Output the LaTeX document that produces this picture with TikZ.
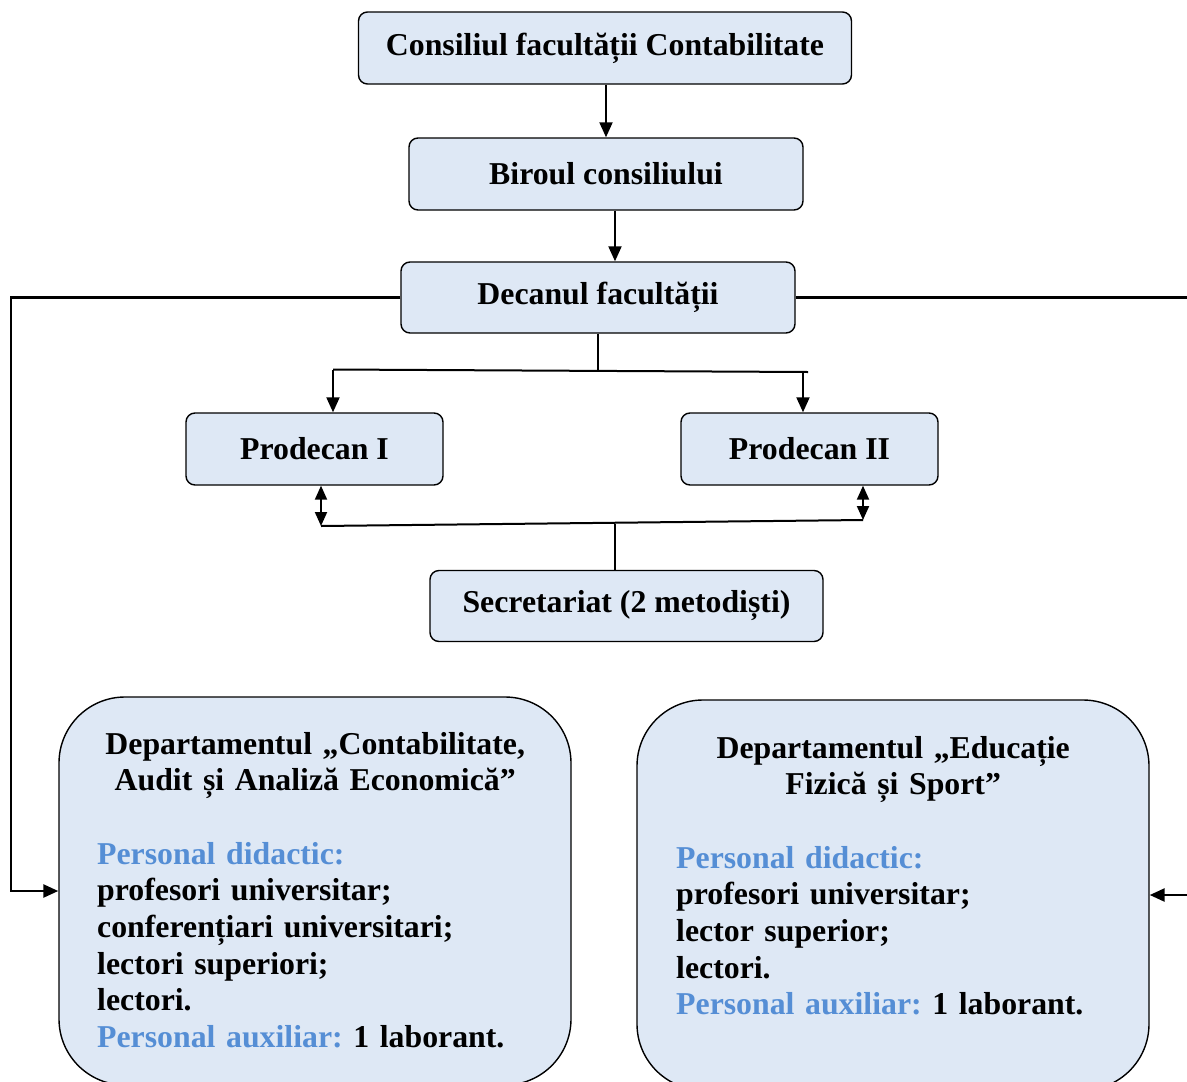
\documentclass[tikz,border=0pt]{standalone}
\usepackage{fontspec}
\setmainfont{Liberation Serif}
\usetikzlibrary{arrows.meta,calc}
\definecolor{boxfill}{HTML}{DEE8F5}
\definecolor{hdblue}{HTML}{558ED5}
\frenchspacing
\begin{document}
\begin{tikzpicture}[x=1pt,y=-1pt,
  txtfont/.style={font=\fontsize{31.8}{36.7}\selectfont\bfseries\frenchspacing},
  box/.style={draw=black, line width=1.4pt, rounded corners=9pt, fill=boxfill, inner sep=0pt, txtfont},
  bigbox/.style={draw=black, line width=1.4pt, rounded corners=66pt, fill=boxfill, inner sep=0pt},
  bodytxt/.style={inner sep=0pt, anchor=base west, txtfont},
  conn/.style={draw=black, line width=2pt},
  thinconn/.style={draw=black, line width=1.5pt},
  sideconn/.style={draw=black, line width=2.5pt, -{Triangle[length=15pt,width=13pt]}},
  arr/.style={conn, -{Triangle[length=15pt,width=13pt]}},
  darr/.style={conn, {Triangle[length=14pt,width=12pt]}-{Triangle[length=14pt,width=12pt]}}
]
\useasboundingbox (0,0) rectangle (1187,1082);

% boxes
\node[box, minimum width=493pt, minimum height=72pt] (cons) at (605,48) {Consiliul facultății Contabilitate};
\node[box, minimum width=394pt, minimum height=72pt] (bir) at (606,174) {Biroul consiliului};
\node[box, minimum width=394pt, minimum height=71pt] (dec) at (598,297.5) {Decanul facultății};
\node[box, minimum width=257pt, minimum height=72pt] (pro1) at (314.5,449) {Prodecan I};
\node[box, minimum width=257pt, minimum height=72pt] (pro2) at (809.5,449) {Prodecan II};
\node[box, minimum width=393pt, minimum height=71pt] (sec) at (626.5,606) {Secretariat (2 metodiști)};

\node[bigbox, minimum width=512pt, minimum height=388pt] (deptA) at (315,891) {};
\node[bigbox, minimum width=512pt, minimum height=390pt] (deptB) at (893,895) {};

\node[bodytxt, text width=436pt] (deptAtxt) at (97,754) {%
{\centering Departamentul „Contabilitate,\\Audit și Analiză Economică”\par}
\vspace{36.7pt}
{\raggedright\color{hdblue}Personal didactic:\\
\color{black}profesori universitar;\\conferențiari universitari;\\lectori superiori;\\lectori.\\
\color{hdblue}Personal auxiliar: \color{black}1 laborant.\par}};

\node[bodytxt, text width=434pt] (deptBtxt) at (676,758) {%
{\centering Departamentul „Educație\\Fizică și Sport”\par}
\vspace{36.7pt}
{\raggedright\color{hdblue}Personal didactic:\\
\color{black}profesori universitar;\\lector superior;\\lectori.\\
\color{hdblue}Personal auxiliar: \color{black}1 laborant.\par}};

% top chain
\draw[arr] (bir.north |- cons.south) -- (bir.north);
\draw[arr] ([xshift=9pt]bir.south) -- ([xshift=17pt]dec.north);

% side lines to departments
\coordinate (lcorner) at (11,297.5);
\coordinate (rcorner) at (1195,297.5);
\draw[sideconn] (dec.west) -- (lcorner) |- (deptA.west);
\draw[sideconn] (dec.east) -- (rcorner) |- (deptB.east);

% to prodecans
\coordinate (jm) at (598,370);
\coordinate (jl) at (333,369.5);
\coordinate (jr) at (803,371.5);
\coordinate (jre) at (808,372);
\draw[thinconn] (dec.south) -- (jm);
\draw[conn] (jl) -- (jre);
\draw[arr] (jl) -- (jl |- pro1.north);
\draw[arr] (jr) -- (jr |- pro2.north);

% prodecans to secretariat
\coordinate (bl) at (321,526);
\coordinate (br) at (863,520);
\coordinate (bm) at (615,524);
\draw[darr] (bl |- pro1.south) -- (bl);
\draw[darr] (br |- pro2.south) -- (br);
\draw[conn] (bl) -- (br);
\draw[thinconn] (bm) -- ([xshift=-11.5pt]sec.north);
\end{tikzpicture}
\end{document}
